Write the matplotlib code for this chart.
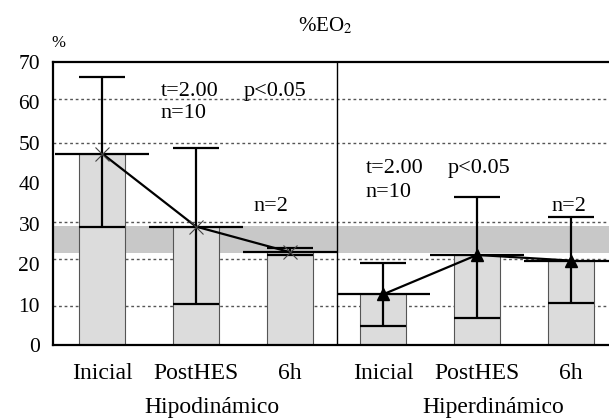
import numpy as np
import matplotlib.pyplot as plt

plt.rcParams['font.family'] = ['Liberation Serif', 'DejaVu Serif']
plt.rcParams['mathtext.fontset'] = 'stix'

# datos (%EO2)
categorias = ['Inicial', 'PostHES', '6h']
grupos = ['Hipodinámico', 'Hiperdinámico']
hipo_media = [47.3, 29.3, 23.0]
hipo_sup = [66.1, 48.8, 24.1]
hipo_inf = [29.3, 10.2, 22.2]
hiper_media = [12.6, 22.3, 20.9]
hiper_sup = [20.4, 36.5, 31.6]
hiper_inf = [4.8, 6.7, 10.5]
rango_normal = [22.7, 29.45]
lineas_ref = [9.7, 21.2, 30.4, 50, 60.7]
yticks = [0, 10, 20, 30, 40, 50, 60, 70]

fig = plt.figure(figsize=(6.09, 4.18), dpi=100)
ax = fig.add_axes([0.0875, 0.174, 0.9125, 0.6784])

x = np.arange(6)
media = hipo_media + hiper_media
sup = hipo_sup + hiper_sup
inf = hipo_inf + hiper_inf
ancho = 0.49

for y in lineas_ref:
    ax.axhline(y, color='#555555', lw=1, ls=(0, (2, 2)), zorder=0.5)
ax.axhspan(rango_normal[0], rango_normal[1], color='#c8c8c8', lw=0, zorder=1)
ax.bar(x, media, width=ancho, color='#dcdcdc', edgecolor='#555555', lw=0.8, zorder=2)

# barras de error y líneas de media
ax.vlines(x, inf, sup, color='black', lw=1.6, zorder=3)
ax.hlines(sup, x - ancho / 2, x + ancho / 2, color='black', lw=1.6, zorder=3)
ax.hlines(inf, x - ancho / 2, x + ancho / 2, color='black', lw=1.6, zorder=3)
ax.hlines(media, x - 0.5, x + 0.5, color='black', lw=1.6, zorder=3)
ax.axvline(2.5, color='black', lw=1, zorder=3)

ax.plot(x[:3], hipo_media, color='black', lw=1.6, zorder=4)
ax.plot(x[:3], hipo_media, ls='none', marker='x', ms=10, mew=0.8, color='#444444', zorder=5)
ax.plot(x[3:], hiper_media, color='black', lw=1.6, marker='^', ms=8, zorder=5)

ax.set_xlim(-0.523, 5.408)
ax.set_ylim(0, 70)
ax.set_yticks(yticks)
ax.set_xticks(x)
ax.set_xticklabels(categorias * 2)
ax.tick_params(axis='y', length=0, pad=9.5, labelsize=15.5)
ax.tick_params(axis='x', length=0, pad=13, labelsize=17)
for s in ['left', 'top', 'bottom']:
    ax.spines[s].set_linewidth(1.6)
ax.spines['right'].set_visible(False)

tr = ax.get_xaxis_transform()
ax.text(1.17, -0.239, grupos[0], transform=tr, ha='center', va='baseline', fontsize=17)
ax.text(4.17, -0.239, grupos[1], transform=tr, ha='center', va='baseline', fontsize=17)

# anotaciones
fs = 16
ax.text(0.623, 61.6, 't=2.00', fontsize=fs, va='baseline')
ax.text(1.505, 61.6, 'p<0.05', fontsize=fs, va='baseline')
ax.text(0.623, 56.0, 'n=10', fontsize=fs, va='baseline')
ax.text(1.61, 33.2, 'n=2', fontsize=fs, va='baseline')
ax.text(2.814, 42.5, 't=2.00', fontsize=fs, va='baseline')
ax.text(3.682, 42.5, 'p<0.05', fontsize=fs, va='baseline')
ax.text(2.814, 36.7, 'n=10', fontsize=fs, va='baseline')
ax.text(4.796, 33.2, 'n=2', fontsize=fs, va='baseline')

fig.text(325 / 609, 1 - 31.7 / 418, r'%EO$_2$', ha='center', va='baseline', fontsize=15)
fig.text(58 / 609, 1 - 43 / 418, '%', ha='center', va='center', fontsize=12)

fig.savefig('out.png', dpi=100)
